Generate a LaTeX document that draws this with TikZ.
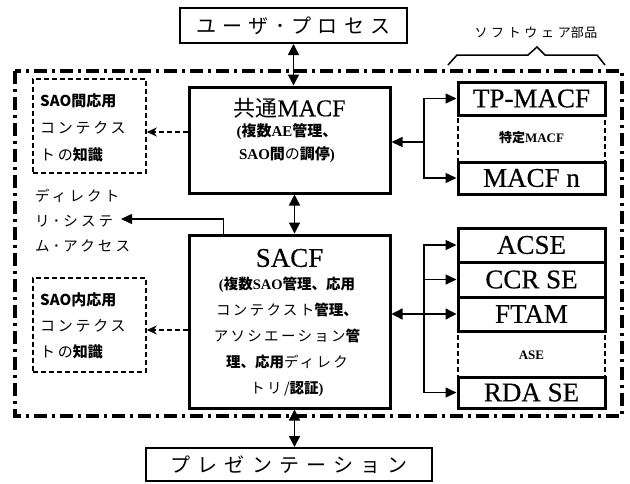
\documentclass[tikz,border=0pt]{standalone}
\usepackage{fontspec}
\usetikzlibrary{arrows.meta,calc}
\newfontfamily\jp{Noto Sans CJK JP}
\newfontfamily\lat[FakeBold=0.35]{Liberation Serif}
\newfontfamily\latb{Liberation Serif}[BoldFont={Liberation Serif Bold}]
\newcommand\J[1]{{\jp #1}}
\newcommand\JB[1]{{\jp\bfseries #1}}
\newcommand\JS[2]{{\jp\mdseries\addfontfeature{LetterSpace=#1}#2}}
\tikzset{
  box/.style={draw, line width=3pt, inner sep=0pt},
  thinbox/.style={draw, line width=2pt, inner sep=0pt},
  dbox/.style={draw, line width=1.6pt, dash pattern=on 5pt off 3pt, inner sep=0pt},
  txt/.style={inner sep=0pt},
  biglab/.style={font=\lat\fontsize{27}{27}\selectfont},
  arr/.style={line width=1.4pt, -{Triangle[length=11pt,width=10pt]}},
  dbl/.style={line width=1.4pt, {Triangle[length=11pt,width=11pt]}-{Triangle[length=11pt,width=11pt]}},
  darr/.style={line width=1.6pt, dash pattern=on 5pt off 3pt, -{Stealth[length=10pt,width=9pt]}},
  outerline/.style={line width=3.2pt, dash pattern=on 13pt off 5pt on 3pt off 5pt},
}
\begin{document}
\begin{tikzpicture}[x=1pt,y=-1pt]
\fill[white] (0,0) rectangle (630,483);
\useasboundingbox (0,0) rectangle (630,483);

% outer dash-dot boundary and brace
\draw[outerline] (15,71) rectangle (622,416);
\draw[line width=1.5pt] (448,65) -- (457,55) -- (528,55) -- (537,47) -- (545,55) -- (597,55) -- (605,65);
\node[txt, font=\fontsize{13}{13}\selectfont] (soft) at (536,33) {\JS{28}{ソフトウェア}\JS{5}{部品}};

% top and bottom boxes
\node[thinbox, minimum width=227pt, minimum height=35pt, font=\fontsize{20}{20}\selectfont] (user) at (293.5,25.5) {\JS{32}{ユーザ･プロセス}};
\node[thinbox, minimum width=286pt, minimum height=33pt, font=\fontsize{20}{20}\selectfont] (pres) at (289,464.5) {\JS{36}{プレゼンテーション}};

% left dashed boxes
\node[dbox, minimum width=113pt, minimum height=94pt] (sao1) at (89.5,126) {};
\node[txt, anchor=west, align=left, font=\fontsize{15}{27}\selectfont] (sao1t) at (40,127.5)
  {\JB{SAO間応用}\\\JS{18}{コンテクス}\\\JS{18}{トの}\JB{知識}};
\node[dbox, minimum width=113pt, minimum height=94pt] (sao2) at (89.5,325) {};
\node[txt, anchor=west, align=left, font=\fontsize{15}{26}\selectfont] (sao2t) at (40,326)
  {\JB{SAO内応用}\\\JS{18}{コンテクス}\\\JS{18}{トの}\JB{知識}};

% directory access
\node[txt, anchor=west, align=left, font=\fontsize{14.5}{25}\selectfont] (dir) at (35,221)
  {\JS{22}{ディレクト}\\\JS{22}{リ･システ}\\\JS{22}{ム･アクセス}};
\coordinate (dirtip) at (121,219);

% central boxes
\node[box, minimum width=201pt, minimum height=106pt] (macf) at (289.5,140) {};
\node[txt, font=\fontsize{22}{22}\selectfont] (macft) at (289.5,108) {\J{共通}{\lat\fontsize{24}{24}\selectfont MACF}};
\node[txt, align=center, font=\latb\bfseries\fontsize{15}{23}\selectfont] (macfb) at (287,143.5)
  {(\JB{複数}AE\JB{管理、}\\SAO\JB{間}\JS{15}{の}\JB{調停})};

\node[box, minimum width=201pt, minimum height=173pt] (sacf) at (289.5,321.5) {};
\node[txt, biglab] (sacft) at (289.5,258) {SACF};
\node[txt, align=center, font=\latb\bfseries\fontsize{14.5}{26}\selectfont] (sacfb) at (287,337)
  {(\JB{複数}SAO\JB{管理、応用}\\\JS{16}{コンテクスト}\JB{管理、}\\\JS{16}{アソシエーション}\JB{管}\\\JB{理、応用}\JS{16}{ディレク}\\\JS{16}{トリ/}\JB{認証})};

% right column: specific MACF
\node[dbox, minimum width=147pt, minimum height=47pt] (tokutei) at (531.5,138.5) {};
\node[txt, font=\latb\bfseries\fontsize{13}{13}\selectfont] (tokt) at (531.5,138) {\JB{特定}MACF};
\node[box, minimum width=147pt, minimum height=33pt, biglab] (tp) at (531.5,98.5) {TP-MACF};
\node[box, minimum width=147pt, minimum height=32pt, biglab] (macfn) at (531.5,178) {MACF n};

% right column: ASEs
\node[dbox, minimum width=147pt, minimum height=46pt] (ase) at (531.5,354) {};
\node[txt, font=\latb\bfseries\fontsize{13}{13}\selectfont] (aset) at (531.5,355) {ASE};
\node[box, minimum width=147pt, minimum height=34pt, biglab] (acse) at (531.5,245) {ACSE};
\node[box, minimum width=147pt, minimum height=35pt, biglab] (ccr) at (531.5,279.5) {CCR SE};
\node[box, minimum width=147pt, minimum height=34pt, biglab] (ftam) at (531.5,314) {FTAM};
\node[box, minimum width=147pt, minimum height=31pt, biglab] (rda) at (531.5,392.5) {RDA SE};

% connectors
\draw[dbl] (user.south) -- (user.south |- macf.north);
\draw[dbl] ([xshift=5pt]macf.south) -- ([xshift=5pt]sacf.north);
\draw[dbl] ([xshift=5pt]sacf.south) -- ([xshift=5pt]sacf.south |- pres.north);
\draw[darr] ([yshift=8pt]macf.west) -- ([yshift=8pt]macf.west -| sao1.east);
\draw[darr] ([yshift=-8.5pt]sacf.west) -- ([yshift=-8.5pt]sacf.west -| sao2.east);
\draw[arr] ([xshift=36pt]sacf.north west) |- (dirtip);

\coordinate (b1) at (424,142);
\draw[arr] (b1) -- (b1 -| macf.east);
\draw[arr] (b1) |- (tp.west);
\draw[arr] (b1) |- (macfn.west);

\coordinate (b2) at (424,314);
\draw[dbl] (sacf.east |- ftam.west) -- (ftam.west);
\draw[arr] (b2) |- (acse.west);
\draw[arr] (b2) |- (ccr.west);
\draw[arr] (b2) |- (rda.west);
\end{tikzpicture}
\end{document}
